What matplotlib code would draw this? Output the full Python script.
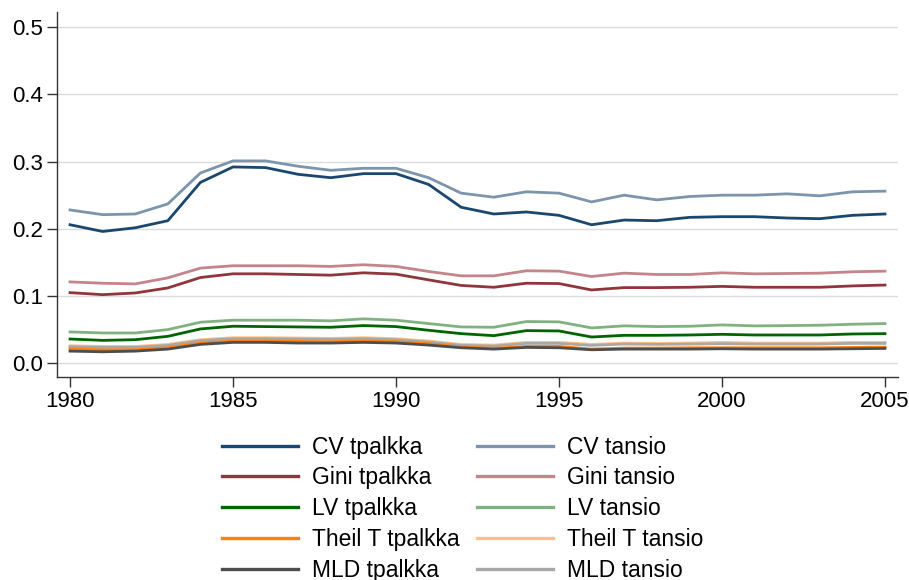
import matplotlib
matplotlib.use("Agg")
import matplotlib.pyplot as plt
from matplotlib.lines import Line2D

plt.rcParams['font.family'] = ['Liberation Sans', 'DejaVu Sans']

years = list(range(1980, 2006))

cv_tpalkka = [0.206, 0.196, 0.2015, 0.212, 0.269, 0.292, 0.291, 0.281, 0.276, 0.282, 0.282, 0.266, 0.232,
              0.222, 0.225, 0.220, 0.206, 0.213, 0.212, 0.217, 0.218, 0.218, 0.216, 0.215, 0.220, 0.222]
cv_tansio = [0.228, 0.221, 0.222, 0.237, 0.283, 0.301, 0.301, 0.293, 0.287, 0.290, 0.290, 0.276, 0.253,
             0.247, 0.255, 0.253, 0.240, 0.250, 0.243, 0.248, 0.250, 0.250, 0.252, 0.249, 0.255, 0.256]
gini_tpalkka = [0.105, 0.102, 0.1045, 0.112, 0.1275, 0.133, 0.133, 0.132, 0.131, 0.1345, 0.1325, 0.124, 0.1157,
                0.113, 0.119, 0.1185, 0.109, 0.1125, 0.1125, 0.113, 0.1143, 0.113, 0.113, 0.113, 0.115, 0.1163]
gini_tansio = [0.121, 0.119, 0.118, 0.127, 0.1415, 0.145, 0.145, 0.145, 0.144, 0.1465, 0.144, 0.1365, 0.130,
               0.130, 0.1375, 0.137, 0.129, 0.134, 0.132, 0.132, 0.1345, 0.133, 0.1335, 0.134, 0.136, 0.137]
lv_tpalkka = [0.036, 0.034, 0.035, 0.040, 0.051, 0.055, 0.0545, 0.054, 0.0535, 0.056, 0.0545, 0.049, 0.044,
              0.041, 0.0485, 0.048, 0.039, 0.0415, 0.0415, 0.042, 0.043, 0.042, 0.042, 0.042, 0.0435, 0.044]
lv_tansio = [0.0466, 0.045, 0.045, 0.050, 0.061, 0.064, 0.064, 0.064, 0.063, 0.066, 0.064, 0.059, 0.054,
             0.0535, 0.062, 0.0615, 0.0525, 0.0556, 0.0545, 0.055, 0.057, 0.0555, 0.056, 0.0565, 0.058, 0.059]
theil_tpalkka = [0.021, 0.020, 0.020, 0.023, 0.030, 0.033, 0.033, 0.0325, 0.032, 0.033, 0.032, 0.029, 0.024,
                 0.022, 0.025, 0.025, 0.021, 0.0225, 0.0225, 0.023, 0.023, 0.023, 0.023, 0.023, 0.0235, 0.024]
theil_tansio = [0.026, 0.025, 0.025, 0.028, 0.035, 0.038, 0.038, 0.0375, 0.037, 0.038, 0.0365, 0.033, 0.028,
                0.027, 0.031, 0.031, 0.028, 0.030, 0.0295, 0.030, 0.031, 0.030, 0.030, 0.030, 0.031, 0.031]
mld_tpalkka = [0.018, 0.017, 0.018, 0.021, 0.028, 0.031, 0.031, 0.030, 0.030, 0.031, 0.030, 0.027, 0.023,
               0.021, 0.0235, 0.023, 0.020, 0.021, 0.021, 0.021, 0.0215, 0.021, 0.021, 0.021, 0.0215, 0.022]
mld_tansio = [0.0245, 0.0235, 0.0235, 0.0265, 0.0335, 0.0365, 0.0365, 0.036, 0.0355, 0.0365, 0.035, 0.0315, 0.0265,
              0.0255, 0.0295, 0.0295, 0.0265, 0.0285, 0.028, 0.0285, 0.029, 0.0285, 0.0285, 0.0285, 0.0295, 0.0295]

series = [
    ("CV tpalkka", cv_tpalkka, "#1a476f"),
    ("Gini tpalkka", gini_tpalkka, "#90353b"),
    ("LV tpalkka", lv_tpalkka, "#006400"),
    ("Theil T tpalkka", theil_tpalkka, "#ff7f0e"),
    ("MLD tpalkka", mld_tpalkka, "#4d4d4d"),
    ("CV tansio", cv_tansio, "#7d94ad"),
    ("Gini tansio", gini_tansio, "#c4848a"),
    ("LV tansio", lv_tansio, "#80b280"),
    ("Theil T tansio", theil_tansio, "#ffbf87"),
    ("MLD tansio", mld_tansio, "#a8a8a8"),
]

x_ticks = [1980, 1985, 1990, 1995, 2000, 2005]
y_ticks = [0.0, 0.1, 0.2, 0.3, 0.4, 0.5]
y_ticklabels = ["0.0", "0.1", "0.2", "0.3", "0.4", "0.5"]

fig = plt.figure(figsize=(9.09, 5.80), dpi=100)
ax = fig.add_axes([57/909, 1 - 377/580, (898-57)/909, (377-12)/580])

draw_order = [5, 6, 7, 8, 9, 0, 1, 2, 3, 4]
for i in draw_order:
    name, vals, col = series[i]
    ax.plot(years, vals, color=col, lw=2.0, solid_joinstyle='round')

ax.set_xlim(1979.6, 2005.4)
ax.set_ylim(-0.0205, 0.5225)
ax.set_xticks(x_ticks)
ax.set_xticklabels([str(t) for t in x_ticks])
ax.set_yticks(y_ticks)
ax.set_yticklabels(y_ticklabels)
ax.grid(axis='y', color='#dcdcdc', lw=1.0)
ax.set_axisbelow(True)
for s in ['top', 'right']:
    ax.spines[s].set_visible(False)
for s in ['left', 'bottom']:
    ax.spines[s].set_color('#333333')
    ax.spines[s].set_linewidth(1.0)
ax.tick_params(axis='both', labelsize=16, length=7, color='#333333', width=1.0, pad=3)

leg_handles = [Line2D([0], [0], color=s[2], lw=2.4) for s in series]
leg_labels = [s[0] for s in series]
fig.legend(leg_handles, leg_labels, ncol=2, loc='upper center',
           bbox_to_anchor=(0.509, 1 - 415/580), frameon=False, fontsize=16.5,
           handlelength=3.3, handletextpad=0.6, columnspacing=0.8, labelspacing=0.34)

fig.savefig("out.png", dpi=100, facecolor='white')
